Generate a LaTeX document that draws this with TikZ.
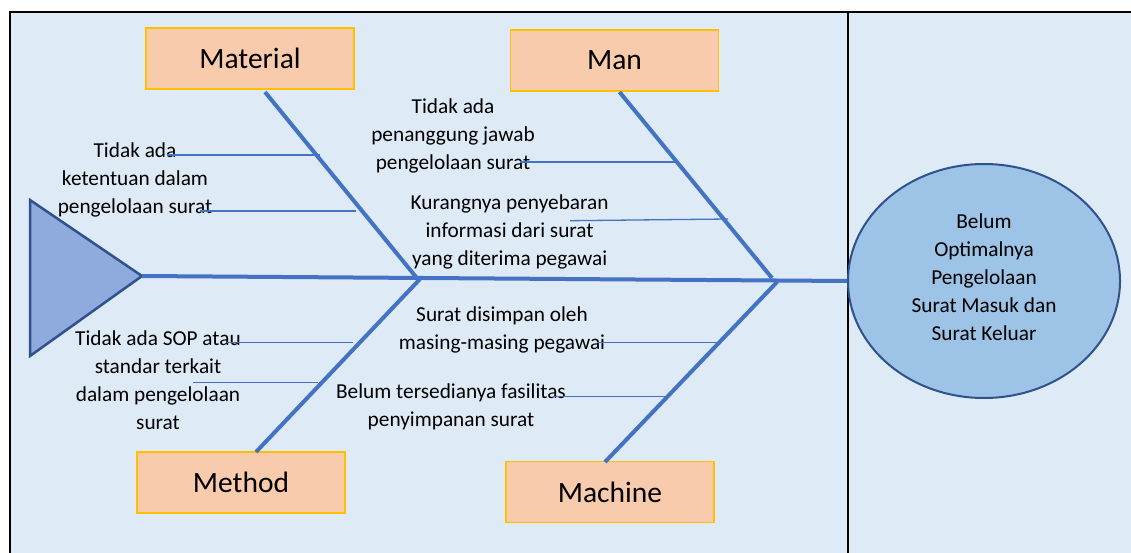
\documentclass[tikz,border=0pt]{standalone}
\usepackage{fontspec}
\setmainfont{Carlito}
\usetikzlibrary{shapes.geometric}

\definecolor{panel}{RGB}{222,234,246}
\definecolor{bone}{RGB}{68,114,196}
\definecolor{catfill}{RGB}{248,203,173}
\definecolor{catline}{RGB}{255,192,0}
\definecolor{headfill}{RGB}{157,195,230}
\definecolor{headline}{RGB}{47,82,143}
\definecolor{tailfill}{RGB}{143,170,220}

\begin{document}
\fontsize{21.3}{28}\selectfont
\begin{tikzpicture}[x=1pt,y=-1pt,
  category/.style={draw=catline,line width=1.5pt,fill=catfill,
    minimum width=208pt,minimum height=61pt,inner sep=0pt,
    font=\fontsize{29.5}{35}\selectfont},
  cause/.style={align=center,inner sep=0pt,yshift=-3pt,
    execute at begin node=\strut,execute at end node=\strut},
  effectstyle/.style={align=center,inner sep=0pt,ellipse,draw=headline,
    fill=headfill,line width=2pt,minimum width=272pt,minimum height=234pt,
    execute at begin node=\rule{0pt}{25.6pt}\strut,
    execute at end node=\strut},
  mainbone/.style={draw=bone,line width=4pt},
  twig/.style={draw=bone,line width=1.3pt},
]
\useasboundingbox (0,0) rectangle (1131,553);

% panel and frame
\fill[panel] (10,12) rectangle (1140,560);
\draw[line width=2pt] (10,560) -- (10,12) -- (1140,12);
\draw[line width=2pt] (848,12) -- (848,560);

% tail triangle
\coordinate (tt) at (30,200);
\coordinate (tail) at (142,276);
\coordinate (tb) at (30,356);
\draw[fill=tailfill,draw=headline,line width=2.5pt,line join=miter]
  (tt) -- (tail) -- (tb) -- cycle;

% effect
\node[effectstyle] (effect) at (984,281)
  {Belum\\Optimalnya\\Pengelolaan\\Surat Masuk dan\\Surat Keluar};

% spine
\draw[mainbone] (tail) -- (effect.west);

% categories
\node[category] (material) at (250,58.7) {Material};
\node[category] (man) at (614.5,60.5) {Man};
\node[category] (method) at (241,482.5) {Method};
\node[category] (machine) at (610,492) {Machine};

% bone ends
\coordinate (matT) at (265,92);
\coordinate (matS) at (416,277);
\coordinate (manT) at (619.5,92);
\coordinate (manS) at (772,278);
\coordinate (metT) at (256,452);
\coordinate (metS) at (420,279);
\coordinate (macT) at (605,462);
\coordinate (macS) at (777,282);

\draw[mainbone] (matT) -- (matS);
\draw[mainbone] (manT) -- (manS);
\draw[mainbone] (metT) -- (metS);
\draw[mainbone] (macT) -- (macS);

% causes
\node[cause] (c1) at (135,178.9) {Tidak ada\\ketentuan dalam\\pengelolaan surat};
\node[cause] (c2) at (453,135.5) {Tidak ada\\penanggung jawab\\pengelolaan surat};
\node[cause] (c3) at (509.6,231.7) {Kurangnya penyebaran\\informasi dari surat\\yang diterima pegawai};
\node[cause] (c4) at (158,381.2) {Tidak ada SOP atau\\standar terkait\\dalam pengelolaan\\surat};
\node[cause] (c5) at (502,328.9) {Surat disimpan oleh\\masing-masing pegawai};
\node[cause] (c6) at (451,405.9) {Belum tersedianya fasilitas\\penyimpanan surat};

% twigs from causes to bones
\coordinate (t1a) at (167,155);   \coordinate (t1b) at (320,155);
\coordinate (t2a) at (200,211);   \coordinate (t2b) at (356,211);
\coordinate (t3a) at (520,162);   \coordinate (t3b) at (675,162);
\coordinate (t4a) at (570,220.7); \coordinate (t4b) at (728,219);
\coordinate (t5a) at (227,342.7); \coordinate (t5b) at (353,342.7);
\coordinate (t6a) at (193,382.3); \coordinate (t6b) at (318,382.3);
\coordinate (t7a) at (597,342.3); \coordinate (t7b) at (720,342.3);
\coordinate (t8a) at (553,396.7); \coordinate (t8b) at (667,396.7);

\draw[twig] (t1a) -- (t1b);
\draw[twig] (t2a) -- (t2b);
\draw[twig] (t3a) -- (t3b);
\draw[twig] (t4a) -- (t4b);
\draw[twig] (t5a) -- (t5b);
\draw[twig] (t6a) -- (t6b);
\draw[twig] (t7a) -- (t7b);
\draw[twig] (t8a) -- (t8b);
\end{tikzpicture}
\end{document}
